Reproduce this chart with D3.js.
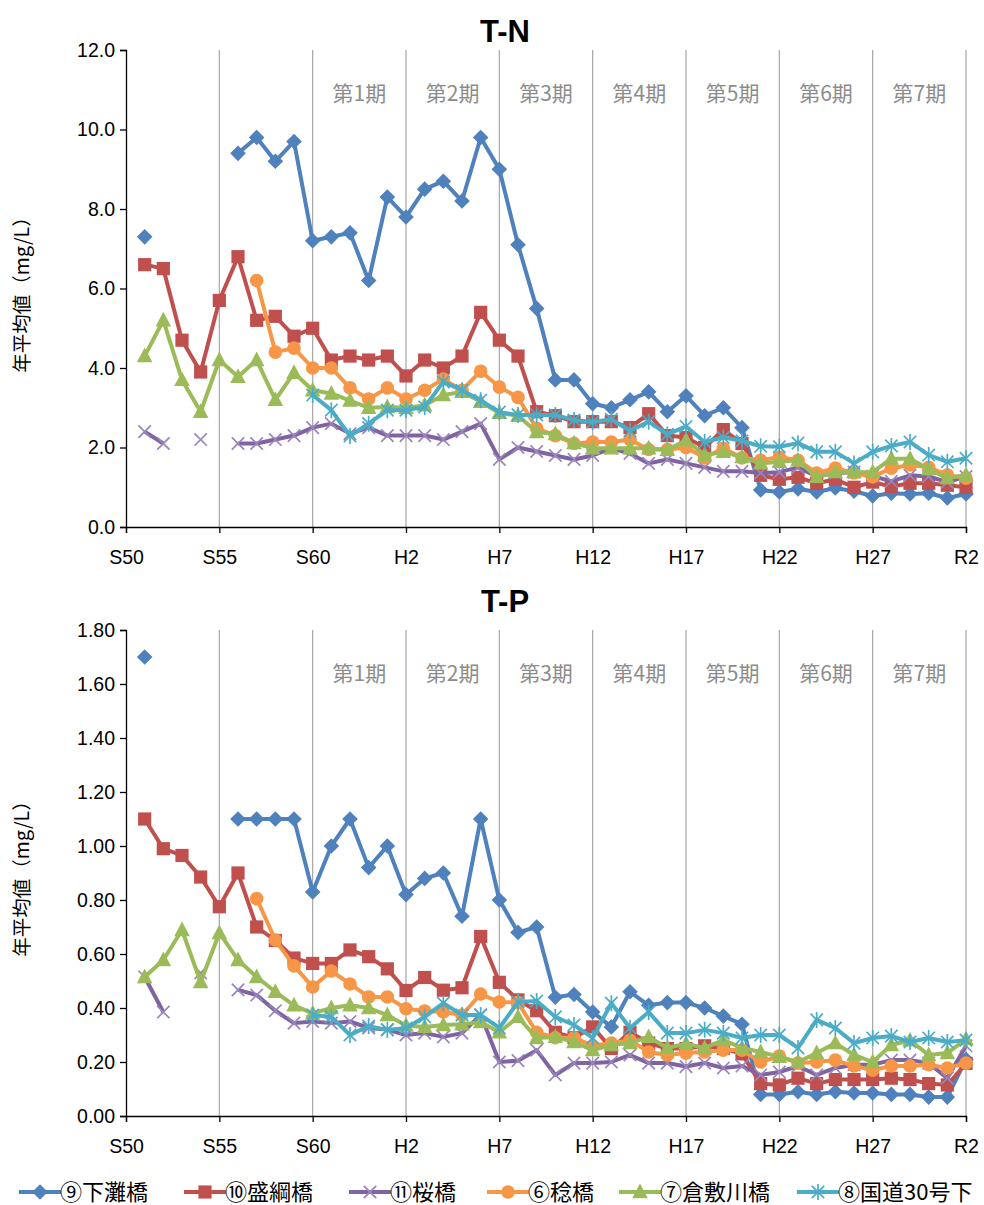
<!DOCTYPE html>
<html><head><meta charset="utf-8">
<script src="https://cdn.jsdelivr.net/npm/d3@7"></script>
<style>
html,body{margin:0;padding:0;background:#fff;}
svg{display:block;}
</style>
</head><body>
<svg id="chart" width="984" height="1205"></svg>
<script>
// ---------- data ----------
const years = d3.range(1976, 2021); // 1976 (S51) .. 2020 (R2)
const xTickYears = [1975,1980,1985,1990,1995,2000,2005,2010,2015,2020];
const xTickLabels = ["S50","S55","S60","H2","H7","H12","H17","H22","H27","R2"];
const periodLabels = ["第1期","第2期","第3期","第4期","第5期","第6期","第7期"];
const periodStarts = [1985,1990,1995,2000,2005,2010,2015];
const seriesNames = ["⑨下灘橋","⑩盛綱橋","⑪桜橋","⑥稔橋","⑦倉敷川橋","⑧国道30号下"];
const n = null;

// T-N (mg/L)
const tnShimonada = [7.3,n,n,n,n, 9.4,9.8,9.2,9.7,7.2,7.3,7.4,6.2,8.3,7.8, 8.5,8.7,8.2,9.8,9.0,7.1,5.5,3.7,3.7,3.1, 3.0,3.2,3.4,2.9,3.3,2.8,3.0,2.5,0.93,0.88, 0.96,0.88,0.98,0.9,0.78,0.85,0.83,0.85,0.73,0.83];
const tnMoritsuna = [6.6,6.5,4.7,3.9,5.7, 6.8,5.2,5.3,4.8,5.0,4.2,4.3,4.2,4.3,3.8, 4.2,4.0,4.3,5.4,4.7,4.3,2.9,2.8,2.65,2.65, 2.65,2.5,2.85,2.3,2.25,2.0,2.45,2.1,1.3,1.2, 1.25,1.1,1.2,1.0,1.13,1.02,1.1,1.1,1.05,1.0];
const tnSakura = [2.4,2.1,n,2.2,n, 2.1,2.1,2.2,2.3,2.5,2.6,2.35,2.5,2.3,2.3, 2.3,2.2,2.4,2.6,1.7,2.0,1.9,1.8,1.7,1.8, 1.98,1.85,1.6,1.7,1.6,1.5,1.4,1.4,1.36,1.38, 1.5,1.27,1.36,1.38,1.28,1.15,1.3,1.27,1.13,1.27];
const tnMinori = [n,n,n,n,n, n,6.2,4.4,4.5,4.0,4.0,3.5,3.22,3.5,3.22, 3.44,3.72,3.44,3.92,3.52,3.26,2.48,2.3,2.1,2.14, 2.14,2.2,1.95,1.95,2.0,1.74,1.98,1.74,1.68,1.76, 1.68,1.36,1.48,1.36,1.26,1.48,1.56,1.5,1.31,1.23];
const tnKurashiki = [4.3,5.2,3.7,2.9,4.2, 3.78,4.2,3.2,3.88,3.44,3.36,3.18,3.0,3.02,3.0, 3.06,3.32,3.4,3.15,2.87,2.8,2.39,2.34,2.11,1.98, 1.98,1.98,1.98,1.94,2.18,1.81,1.89,1.76,1.6,1.64, 1.68,1.26,1.38,1.38,1.38,1.72,1.72,1.46,1.23,1.31];
const tnKokudo30 = [n,n,n,n,n, n,n,n,n,3.32,2.94,2.29,2.6,2.94,2.94, 3.02,3.65,3.44,3.19,2.89,2.82,2.82,2.82,2.69,2.64, 2.71,2.42,2.65,2.33,2.53,2.14,2.25,2.17,2.03,2.02, 2.11,1.89,1.89,1.6,1.89,2.04,2.14,1.81,1.64,1.73];

// T-P (mg/L)
const tpShimonada = [1.70,n,n,n,n, 1.10,1.10,1.10,1.10,0.83,1.00,1.10,0.92,1.00,0.82, 0.88,0.90,0.74,1.10,0.80,0.68,0.70,0.44,0.45,0.385, 0.33,0.46,0.41,0.42,0.42,0.40,0.37,0.34,0.08,0.08, 0.09,0.08,0.09,0.085,0.085,0.08,0.08,0.07,0.07,0.21];
const tpMoritsuna = [1.10,0.99,0.965,0.885,0.775, 0.90,0.70,0.65,0.585,0.565,0.565,0.615,0.59,0.545,0.465, 0.513,0.466,0.475,0.665,0.495,0.43,0.39,0.31,0.29,0.33, 0.25,0.31,0.27,0.25,0.25,0.26,0.25,0.23,0.12,0.115, 0.14,0.12,0.135,0.135,0.135,0.14,0.135,0.12,0.115,0.195];
const tpSakura = [0.515,0.385,n,0.53,n, 0.467,0.448,0.39,0.344,0.35,0.344,0.35,0.326,0.32,0.30, 0.307,0.293,0.307,0.375,0.20,0.205,0.244,0.152,0.196,0.196, 0.20,0.226,0.196,0.196,0.183,0.196,0.178,0.185,0.152,0.163, 0.185,0.152,0.178,0.19,0.19,0.207,0.207,0.196,0.14,0.26];
const tpMinori = [n,n,n,n,n, n,0.805,0.652,0.556,0.478,0.537,0.489,0.441,0.441,0.397, 0.389,0.385,0.374,0.452,0.422,0.42,0.31,0.29,0.29,0.26, 0.27,0.28,0.237,0.226,0.233,0.237,0.244,0.244,0.20,0.222, 0.196,0.20,0.207,0.185,0.17,0.185,0.185,0.19,0.178,0.196];
const tpKurashiki = [0.515,0.578,0.689,0.496,0.678, 0.578,0.515,0.46,0.41,0.38,0.40,0.41,0.40,0.374,0.335, 0.33,0.337,0.34,0.348,0.31,0.367,0.289,0.293,0.274,0.244, 0.263,0.27,0.293,0.252,0.268,0.252,0.281,0.252,0.237,0.219, 0.20,0.233,0.27,0.226,0.20,0.263,0.28,0.226,0.233,0.285];
const tpKokudo30 = [n,n,n,n,n, n,n,n,n,0.374,0.367,0.30,0.333,0.319,0.326, 0.367,0.418,0.374,0.374,0.326,0.422,0.426,0.367,0.337,0.289, 0.418,0.326,0.385,0.307,0.307,0.319,0.307,0.289,0.30,0.30, 0.252,0.356,0.326,0.27,0.289,0.296,0.274,0.289,0.274,0.281];

const tnYTicks = [0,2,4,6,8,10,12];
const tpYTicks = [0,0.2,0.4,0.6,0.8,1.0,1.2,1.4,1.6,1.8];

// ---------- styles ----------
const colors = ["#4F81BD","#C0504D","#8064A2","#F79646","#9BBB59","#4BACC6"];
const markerTypes = ["diamond","square","x","circle","triangle","asterisk"];
const jpFont = "'Noto Sans CJK JP', sans-serif";
const numFont = "'Liberation Sans', Arial, sans-serif";

const svg = d3.select("#chart");
const x = d3.scaleLinear().domain([1975, 2020]).range([126, 966]);

function markerPath(type) {
  switch (type) {
    case "diamond": return "M0,-7.8L7.8,0L0,7.8L-7.8,0Z";
    case "square": return "M-6.6,-6.6H6.6V6.6H-6.6Z";
    case "triangle": return "M0,-8.5L7.8,6.2L-7.8,6.2Z";
    case "x": return "M-6.2,-6.2L6.2,6.2M-6.2,6.2L6.2,-6.2";
    case "asterisk": return "M-6.2,-6.2L6.2,6.2M-6.2,6.2L6.2,-6.2M0,-8V8";
    default: return null;
  }
}
function drawMarker(g, type, color, cx, cy) {
  if (type === "circle") {
    g.append("circle").attr("cx", cx).attr("cy", cy).attr("r", 6.8).attr("fill", color);
  } else if (type === "x" || type === "asterisk") {
    g.append("path").attr("d", markerPath(type)).attr("transform", `translate(${cx},${cy})`)
      .attr("fill", "none").attr("stroke", type === "x" ? "#9a85bd" : color).attr("stroke-width", 1.7);
  } else {
    g.append("path").attr("d", markerPath(type)).attr("transform", `translate(${cx},${cy})`).attr("fill", color);
  }
}

function drawPanel(opts) {
  const { title, titleY, top, bottom, domainMax, ticks, fmt, series, labelY } = opts;
  const y = d3.scaleLinear().domain([0, domainMax]).range([bottom, top]);
  const g = svg.append("g");

  // vertical gridlines
  g.selectAll(".grid").data(xTickYears.slice(1)).enter().append("line")
    .attr("x1", d => x(d)).attr("x2", d => x(d))
    .attr("y1", top).attr("y2", bottom)
    .attr("stroke", "#a6a6a6").attr("stroke-width", 1.2);

  // period labels
  g.selectAll(".period").data(periodLabels).enter().append("text")
    .attr("x", (d, i) => x(periodStarts[i] + 2.5))
    .attr("y", top + 51)
    .attr("text-anchor", "middle")
    .attr("font-family", jpFont).attr("font-size", 21)
    .attr("fill", "#8c8c8c")
    .text(d => d);

  // axes
  const yAxis = d3.axisLeft(y).tickValues(ticks).tickFormat(d3.format(fmt)).tickSize(6).tickPadding(5);
  const ya = g.append("g").attr("transform", "translate(126,0)").call(yAxis);
  ya.selectAll("text").attr("font-family", numFont).attr("font-size", 19.5).attr("fill", "#000");
  const xAxis = d3.axisBottom(x).tickValues(xTickYears).tickFormat((d, i) => xTickLabels[i]).tickSize(6).tickPadding(17);
  const xa = g.append("g").attr("transform", `translate(0,${bottom})`).call(xAxis);
  xa.selectAll("text").attr("font-family", numFont).attr("font-size", 19.5).attr("fill", "#000");
  [ya, xa].forEach(a => {
    a.select(".domain").attr("stroke", "#000").attr("stroke-width", 1.3);
    a.selectAll(".tick line").attr("stroke", "#000").attr("stroke-width", 1.3);
  });

  // title
  svg.append("text").attr("x", 505).attr("y", titleY).attr("text-anchor", "middle")
    .attr("font-family", numFont).attr("font-weight", "bold").attr("font-size", 31).text(title);

  // y axis label
  svg.append("text").attr("transform", `translate(29,${labelY}) rotate(-90)`)
    .attr("text-anchor", "middle").attr("font-family", jpFont).attr("font-size", 19.5)
    .text("年平均値（mg/L）");

  // series
  const line = d3.line().defined(d => d != null).x((d, i) => x(years[i])).y(d => y(d));
  series.forEach((vals, si) => {
    const sg = g.append("g");
    sg.append("path").attr("d", line(vals)).attr("fill", "none")
      .attr("stroke", colors[si]).attr("stroke-width", 4).attr("stroke-linejoin", "round");
    vals.forEach((v, i) => {
      if (v != null) drawMarker(sg, markerTypes[si], colors[si], x(years[i]), y(v));
    });
  });
}

drawPanel({ title: "T-N", titleY: 42, top: 50, bottom: 527, domainMax: 12, ticks: tnYTicks, fmt: ".1f",
  series: [tnShimonada, tnMoritsuna, tnSakura, tnMinori, tnKurashiki, tnKokudo30], labelY: 290 });
drawPanel({ title: "T-P", titleY: 612, top: 630, bottom: 1116, domainMax: 1.8, ticks: tpYTicks, fmt: ".2f",
  series: [tpShimonada, tpMoritsuna, tpSakura, tpMinori, tpKurashiki, tpKokudo30], labelY: 874 });

// legend
const legendX = [40, 205, 370, 508, 640, 818];
const lg = svg.append("g");
seriesNames.forEach((name, i) => {
  const cx = legendX[i], cy = 1192;
  lg.append("line").attr("x1", cx - 21).attr("x2", cx + 21).attr("y1", cy).attr("y2", cy)
    .attr("stroke", colors[i]).attr("stroke-width", 4);
  drawMarker(lg, markerTypes[i], colors[i], cx, cy);
  lg.append("text").attr("x", cx + 20).attr("y", cy + 8).attr("font-family", jpFont)
    .attr("font-size", 22).text(name);
});
</script>
</body></html>
